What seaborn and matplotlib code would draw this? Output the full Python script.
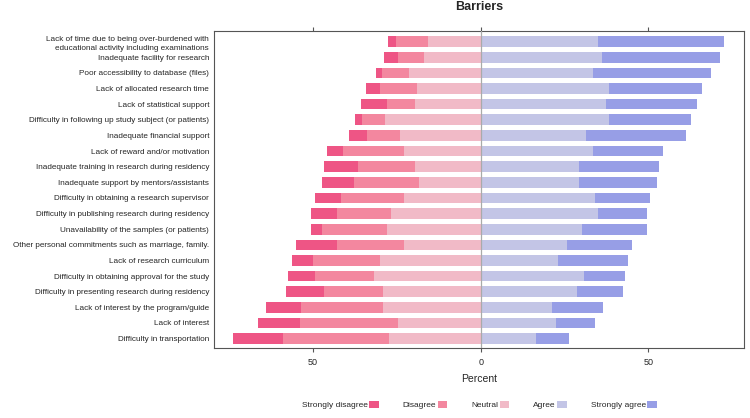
# -*- coding: utf-8 -*-

# Package Loading
import matplotlib
matplotlib.use("Agg")
import matplotlib.pyplot as plt
from matplotlib.patches import Patch
import numpy as np
import pandas as pd
import seaborn as sns

# Data (percent of respondents)
barriers = [
	"Lack of time due to being over-burdened with\neducational activity including examinations",
	"Inadequate facility for research",
	"Poor accessibility to database (files)",
	"Lack of allocated research time",
	"Lack of statistical support",
	"Difficulty in following up study subject (or patients)",
	"Inadequate financial support",
	"Lack of reward and/or motivation",
	"Inadequate training in research during residency",
	"Inadequate support by mentors/assistants",
	"Difficulty in obtaining a research supervisor",
	"Difficulty in publishing research during residency",
	"Unavailability of the samples (or patients)",
	"Other personal commitments such as marriage, family.",
	"Lack of research curriculum",
	"Difficulty in obtaining approval for the study",
	"Difficulty in presenting research during residency",
	"Lack of interest by the program/guide",
	"Lack of interest",
	"Difficulty in transportation",
]
strongly_disagree = [2.3, 4.1, 1.8, 4.1, 7.9, 2.0, 5.2, 4.6, 10.1, 9.6,
                     7.9, 7.9, 3.5, 12.3, 6.3, 8.0, 11.1, 10.3, 12.5, 15.1]
disagree = [9.5, 7.6, 8.1, 11.1, 8.3, 7.1, 9.9, 18.2, 17.1, 19.4,
            18.7, 16.1, 19.4, 19.9, 19.8, 17.7, 17.8, 24.7, 29.2, 31.5]
neutral = [15.7, 17.0, 21.4, 19.0, 19.5, 28.4, 24.1, 22.9, 19.6, 18.4,
           22.9, 26.7, 27.8, 22.9, 30.1, 31.7, 29.0, 29.0, 24.6, 27.3]
agree = [35.0, 36.1, 33.6, 38.4, 37.3, 38.4, 31.3, 33.6, 29.2, 29.2,
         34.1, 35.0, 30.1, 25.6, 23.0, 30.7, 28.6, 21.3, 22.5, 16.5]
strongly_agree = [37.6, 35.3, 35.2, 27.5, 27.1, 24.3, 29.8, 20.8, 24.1, 23.5,
                  16.5, 14.6, 19.5, 19.5, 21.0, 12.3, 13.9, 15.1, 11.7, 9.8]

levels = ["Strongly disagree", "Disagree", "Neutral", "Agree", "Strongly agree"]
colors = ["#EE5585", "#F3879F", "#F1BAC7", "#C3C5E6", "#979EE6"]

df = pd.DataFrame({
	"barrier": barriers,
	"sd": strongly_disagree, "d": disagree, "n": neutral,
	"a": agree, "sa": strongly_agree,
})

# Cumulative ends: negative side goes left from zero, positive side right
df["neg_n"] = -df["n"]
df["neg_d"] = -(df["n"] + df["d"])
df["neg_sd"] = -(df["n"] + df["d"] + df["sd"])
df["pos_a"] = df["a"]
df["pos_sa"] = df["a"] + df["sa"]

sns.set_style("white")
plt.rcParams["font.family"] = ["Liberation Sans", "DejaVu Sans"]

fig = plt.figure(figsize=(7.5, 4.18), dpi=100)
ax = fig.add_axes([0.2853, 0.1675, 0.7067, 0.7583])

# Draw longest segment first, shorter ones on top
layers = [("neg_sd", colors[0]), ("neg_d", colors[1]), ("neg_n", colors[2]),
          ("pos_sa", colors[4]), ("pos_a", colors[3])]
for col, c in layers:
	sns.barplot(data=df, x=col, y="barrier", color=c, saturation=1,
	            width=0.68, orient="h", ax=ax, linewidth=0)

ax.axvline(0, color="#AAAAAA", lw=0.9, zorder=5)

ax.set_xlim(-79.5, 78.5)
ax.set_ylim(19.6, -0.68)
ax.set_xticks([-50, 0, 50])
ax.set_xticklabels(["50", "0", "50"])
ax.tick_params(axis="x", which="both", bottom=True, top=True, labeltop=False,
               length=3, width=0.8, color="#555555", labelsize=6.5, pad=4.5)
ax.tick_params(axis="y", length=0, labelsize=5.9, pad=3.5)
ax.set_ylabel("")
ax.set_xlabel("Percent", fontsize=7.5, labelpad=5)
for s in ax.spines.values():
	s.set_color("#555555")
	s.set_linewidth(0.8)

ax.set_title("Barriers", fontsize=9, fontweight="bold", pad=15)

handles = [Patch(facecolor=c, edgecolor="none", label=l) for l, c in zip(levels, colors)]
fig.legend(handles=handles, loc="center", bbox_to_anchor=(0.639, 0.031), ncol=5,
           frameon=False, markerfirst=False, fontsize=6, handlelength=1.1,
           handleheight=0.9, handletextpad=0.2, columnspacing=2.9)

# Loosen the two-line label once the ticks exist
fig.canvas.draw()
for tick in ax.yaxis.get_major_ticks():
	tick.label1.set_linespacing(1.5)

plt.savefig("out.png", dpi=100)
plt.close("all")
